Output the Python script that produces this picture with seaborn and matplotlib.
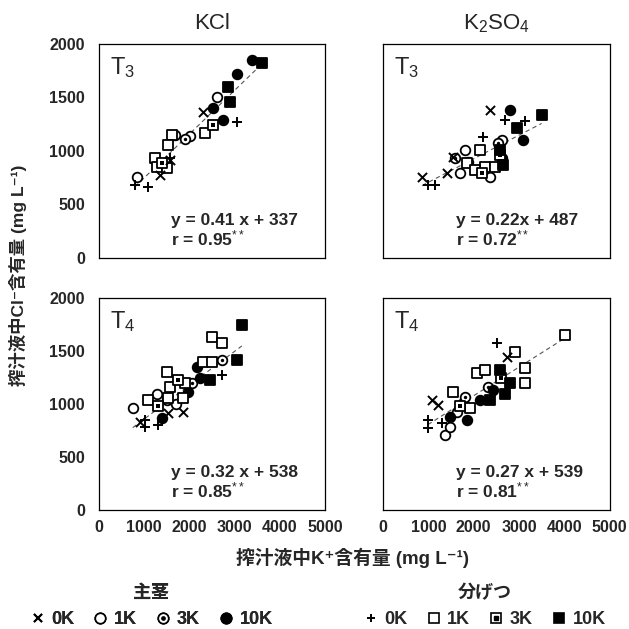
import matplotlib
matplotlib.use("Agg")
import matplotlib.pyplot as plt
from matplotlib.lines import Line2D
import numpy as np
import pandas as pd
import seaborn as sns

sns.set_theme(style="white")
plt.rcParams.update({
    "font.family": ["Liberation Sans", "Noto Sans CJK JP", "DejaVu Sans"],
    "mathtext.fontset": "custom",
    "mathtext.rm": "Liberation Sans",
    "mathtext.it": "Liberation Sans:italic",
    "mathtext.bf": "Liberation Sans:bold",
    "axes.edgecolor": "black",
    "axes.linewidth": 0.9,
    "xtick.direction": "in",
    "ytick.direction": "in",
})

# ---------------------------------------------------------------------------
# Data. Groups: M = 主茎, T = 分げつ; 0K/1K/3K/10K
# ---------------------------------------------------------------------------
kcl_t3_group = ["M0", "M0", "M0",
                "M1", "M1", "M1", "M1",
                "M3", "M3",
                "M10", "M10", "M10", "M10",
                "T0", "T0", "T0", "T0",
                "T1", "T1", "T1", "T1", "T1", "T1",
                "T3", "T3",
                "T10", "T10", "T10"]
kcl_t3_k = [2300, 1350, 1570,
            2610, 840, 1680, 2010,
            1900, 1450,
            3385, 3050, 2745, 2520,
            3050, 800, 1085, 1570,
            1615, 1525, 2345, 1240, 1280, 1500,
            2520, 1390,
            3600, 2855, 2900]
kcl_t3_cl = [1365, 776, 916,
             1505, 757, 1150, 1140,
             1110, 860,
             1850, 1720, 1290, 1400,
             1270, 680, 665, 935,
             1150, 1055, 1170, 935, 850, 840,
             1245, 890,
             1825, 1600, 1460]

k2so4_t3_group = ["M0", "M0", "M0", "M0",
                  "M1", "M1", "M1", "M1", "M1",
                  "M3", "M3",
                  "M10", "M10", "M10",
                  "T0", "T0", "T0", "T0", "T0",
                  "T1", "T1", "T1", "T1", "T1",
                  "T3", "T3",
                  "T10", "T10", "T10", "T10"]
k2so4_t3_k = [2360, 1410, 860, 1540,
              1805, 1695, 2355, 2620, 1870,
              1590, 2530,
              2800, 3085, 2620,
              2690, 3130, 2200, 990, 1145,
              2140, 1850, 2250, 2470, 2030,
              2580, 2180,
              3500, 2950, 2640, 2580]
k2so4_t3_cl = [1384, 795, 757, 945,
               1010, 795, 757, 1100, 900,
               935, 1075,
               1384, 1100, 935,
               1290, 1280, 1130, 680, 680,
               1010, 890, 850, 850, 823,
               963, 795,
               1340, 1215, 870, 1010]

kcl_t4_group = ["M0", "M0", "M0",
                "M1", "M1", "M1",
                "M3", "M3", "M3",
                "M10", "M10", "M10", "M10",
                "T0", "T0", "T0", "T0",
                "T1", "T1", "T1", "T1", "T1", "T1", "T1", "T1", "T1", "T1",
                "T3", "T3",
                "T10", "T10", "T10"]
kcl_t4_k = [1525, 1855, 905,
            750, 1280, 1700,
            2720, 2055, 1500,
            2165, 1390, 2230, 1965,
            2720, 1020, 1020, 1300,
            2500, 2720, 1500, 2300, 2500, 1900, 1570, 1085, 1860, 1525,
            1760, 1300,
            3160, 3050, 2450]
kcl_t4_cl = [915, 925, 830,
             960, 1100, 1000,
             1415, 1200, 1040,
             1350, 870, 1245, 1110,
             1275, 785, 850, 800,
             1630, 1575, 1300, 1395, 1395, 1200, 1160, 1037, 1055, 1055,
             1230, 980,
             1745, 1415, 1225]

k2so4_t4_group = ["M0", "M0", "M0",
                  "M1", "M1", "M1", "M1",
                  "M3", "M3",
                  "M10", "M10", "M10", "M10",
                  "T0", "T0", "T0", "T0",
                  "T1", "T1", "T1", "T1", "T1", "T1", "T1", "T1",
                  "T3", "T3",
                  "T10", "T10", "T10", "T10"]
k2so4_t4_k = [1080, 1210, 2730,
              1365, 1475, 1760, 1630,
              1805, 2315,
              2425, 1850, 2140, 1475,
              2510, 990, 990, 1300,
              4010, 2910, 3130, 3130, 2070, 2250, 1540, 1915,
              2600, 1700,
              2580, 2800, 2360, 2700]
k2so4_t4_cl = [1037, 990, 1440,
               710, 785, 1010, 925,
               1065, 1160,
               1130, 850, 1040, 880,
               1575, 850, 773, 820,
               1650, 1490, 1340, 1200, 1290, 1320, 1115, 960,
               1250, 980,
               1320, 1200, 1040, 1100]

# regression lines (slope, intercept) and r
slopes = [0.41, 0.22, 0.32, 0.27]
intercepts = [337, 487, 538, 539]
eq_texts = ["y = 0.41 x + 337", "y = 0.22x + 487", "y = 0.32 x + 538", "y = 0.27 x + 539"]
r_texts = ["r = 0.95$^{**}$", "r = 0.72$^{**}$", "r = 0.85$^{**}$", "r = 0.81$^{**}$"]
stage_labels = ["T$_3$", "T$_3$", "T$_4$", "T$_4$"]
col_titles = ["KCl", "K$_2$SO$_4$"]

panels = [
    (kcl_t3_group, kcl_t3_k, kcl_t3_cl),
    (k2so4_t3_group, k2so4_t3_k, k2so4_t3_cl),
    (kcl_t4_group, kcl_t4_k, kcl_t4_cl),
    (k2so4_t4_group, k2so4_t4_k, k2so4_t4_cl),
]

# marker styles: (marker, face, inner dot marker)
STYLES = {
    "M0": ("x", None, None),
    "M1": ("o", "white", None),
    "M3": ("o", "white", "o"),
    "M10": ("o", "black", None),
    "T0": ("+", None, None),
    "T1": ("s", "white", None),
    "T3": ("s", "white", "s"),
    "T10": ("s", "black", None),
}
MS = 48

fig = plt.figure(figsize=(6.29, 6.29), dpi=100)
ax_pos = [
    [0.157, 0.590, 0.360, 0.340],
    [0.609, 0.590, 0.360, 0.340],
    [0.157, 0.189, 0.360, 0.337],
    [0.609, 0.189, 0.360, 0.337],
]

for i, (grp, kx, cly) in enumerate(panels):
    ax = fig.add_axes(ax_pos[i])
    df = pd.DataFrame({"group": grp, "k": kx, "cl": cly})

    xs = np.array([df["k"].min(), df["k"].max()])
    ax.plot(xs, slopes[i] * xs + intercepts[i], ls=(0, (4, 3)), color="#555555",
            lw=0.8, zorder=1)

    for g, (mk, face, inner) in STYLES.items():
        sub = df[df["group"] == g]
        if sub.empty:
            continue
        if face is None:
            sns.scatterplot(data=sub, x="k", y="cl", marker=mk, s=MS * 0.9,
                            color="black", linewidth=1.4, ax=ax, zorder=3)
        else:
            sns.scatterplot(data=sub, x="k", y="cl", marker=mk, s=MS,
                            facecolor=face, edgecolor="black", linewidth=1.3,
                            ax=ax, zorder=2)
            if inner is not None:
                sns.scatterplot(data=sub, x="k", y="cl", marker=inner, s=6,
                                color="black", linewidth=0, ax=ax, zorder=2)

    ax.set_xlim(0, 5000)
    ax.set_ylim(0, 2000)
    ax.set_xticks([0, 1000, 2000, 3000, 4000, 5000])
    ax.set_yticks([0, 500, 1000, 1500, 2000])
    ax.set_xlabel("")
    ax.set_ylabel("")
    ax.tick_params(length=3, width=0.8, labelsize=11.5)
    ax.tick_params(axis="y", pad=10)
    ax.tick_params(axis="x", pad=7)
    for lab in ax.get_xticklabels() + ax.get_yticklabels():
        lab.set_fontweight("bold")
    if i % 2 == 1:
        ax.tick_params(labelleft=False)
    if i < 2:
        ax.tick_params(labelbottom=False)
    for sp in ax.spines.values():
        sp.set_visible(True)
        sp.set_color("black")

    ax.text(0.05, 0.95, stage_labels[i], transform=ax.transAxes, fontsize=17,
            va="top", ha="left")
    ax.text(0.32, 0.14, eq_texts[i], transform=ax.transAxes, fontsize=12.5,
            fontweight="bold", ha="left", va="bottom")
    ax.text(0.32, 0.045, r_texts[i], transform=ax.transAxes, fontsize=12.5,
            fontweight="bold", ha="left", va="bottom")

fig.text(0.337, 0.962, col_titles[0], fontsize=16, ha="center", va="center")
fig.text(0.789, 0.962, col_titles[1], fontsize=16, ha="center", va="center")

fig.text(0.028, 0.562, "搾汁液中Cl⁻含有量 (mg L⁻¹)", rotation=90,
         fontsize=12.5, fontweight="bold", ha="center", va="center")
fig.text(0.56, 0.113, "搾汁液中K⁺含有量 (mg L⁻¹)",
         fontsize=13.5, fontweight="bold", ha="center", va="center")


def handle(g):
    mk, face, inner = STYLES[g]
    if face is None:
        return Line2D([], [], marker=mk, ls="none", color="black", ms=6, mew=1.4)
    base = Line2D([], [], marker=mk, ls="none", mfc=face, mec="black", ms=7.5, mew=1.2)
    if inner is None:
        return base
    dot = Line2D([], [], marker=inner, ls="none", color="black", ms=2.4)
    return (base, dot)


labels = ["0K", "1K", "3K", "10K"]
leg_kw = dict(ncol=4, frameon=False, loc="lower center", borderaxespad=0,
              handletextpad=0.3, columnspacing=1.0, handlelength=0.9,
              prop={"size": 13, "weight": "bold"},
              title_fontproperties={"size": 13, "weight": "bold"})
leg1 = fig.legend([handle(g) for g in ["M0", "M1", "M3", "M10"]], labels,
                  title="主茎", bbox_to_anchor=(0.240, -0.01), **leg_kw)
leg2 = fig.legend([handle(g) for g in ["T0", "T1", "T3", "T10"]], labels,
                  title="分げつ", bbox_to_anchor=(0.770, -0.01), **leg_kw)
fig.add_artist(leg1)

fig.savefig("out.png", dpi=100)
